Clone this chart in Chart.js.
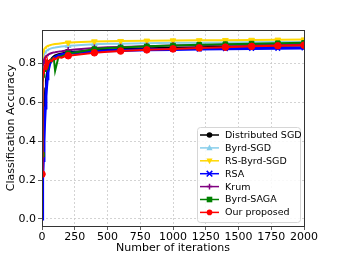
<!DOCTYPE html>
<html>
<head>
<meta charset="utf-8">
<script src="https://cdn.jsdelivr.net/npm/chart.js@4"></script>
<style>
  body { margin: 0; background: #fff; }
  #wrap { width: 338px; height: 253px; }
</style>
</head>
<body>
<div id="wrap"><canvas id="accChart" width="338" height="253"></canvas></div>
<script>
// iterations (x values)
const iterations = [0, 3, 6, 10, 15, 20, 25, 30, 35, 40, 45, 50, 60, 75, 90, 100, 125, 150, 175, 200, 250, 300, 400, 500, 600, 800, 1000, 1200, 1400, 1600, 1800, 2000];

const distSGD  = [0.0, 0.14, 0.27, 0.40, 0.52, 0.61, 0.67, 0.71, 0.74, 0.76, 0.78, 0.79, 0.81, 0.825, 0.835, 0.84, 0.846, 0.85, 0.853, 0.855, 0.858, 0.861, 0.866, 0.869, 0.872, 0.876, 0.879, 0.882, 0.885, 0.887, 0.889, 0.890];
const byrdSGD  = [0.76, 0.79, 0.81, 0.835, 0.845, 0.85, 0.855, 0.86, 0.863, 0.866, 0.868, 0.87, 0.873, 0.877, 0.879, 0.88, 0.883, 0.885, 0.887, 0.889, 0.891, 0.893, 0.897, 0.899, 0.900, 0.902, 0.904, 0.905, 0.906, 0.907, 0.908, 0.909];
const rsByrd   = [0.80, 0.82, 0.84, 0.86, 0.87, 0.875, 0.879, 0.882, 0.885, 0.887, 0.889, 0.89, 0.892, 0.895, 0.897, 0.898, 0.900, 0.902, 0.904, 0.905, 0.907, 0.908, 0.911, 0.912, 0.913, 0.915, 0.916, 0.917, 0.918, 0.919, 0.920, 0.921];
const rsa      = [0.0, 0.10, 0.20, 0.30, 0.40, 0.50, 0.57, 0.63, 0.68, 0.72, 0.75, 0.77, 0.80, 0.815, 0.825, 0.83, 0.838, 0.843, 0.847, 0.850, 0.853, 0.856, 0.860, 0.863, 0.865, 0.868, 0.870, 0.872, 0.874, 0.875, 0.876, 0.878];
const krum     = [0.72, 0.76, 0.78, 0.80, 0.815, 0.825, 0.83, 0.835, 0.838, 0.84, 0.843, 0.845, 0.848, 0.852, 0.855, 0.856, 0.859, 0.861, 0.864, 0.866, 0.870, 0.873, 0.878, 0.881, 0.883, 0.887, 0.890, 0.892, 0.894, 0.896, 0.897, 0.898];
const byrdSAGA = [0.33, 0.62, 0.70, 0.73, 0.75, 0.77, 0.76, 0.79, 0.78, 0.80, 0.79, 0.81, 0.805, 0.82, 0.825, 0.76, 0.83, 0.835, 0.842, 0.85, 0.855, 0.86, 0.872, 0.877, 0.88, 0.886, 0.89, 0.894, 0.897, 0.900, 0.902, 0.904];
const ours     = [0.23, 0.62, 0.72, 0.75, 0.76, 0.78, 0.77, 0.80, 0.785, 0.81, 0.79, 0.80, 0.815, 0.81, 0.825, 0.82, 0.83, 0.828, 0.835, 0.838, 0.842, 0.846, 0.853, 0.858, 0.862, 0.868, 0.873, 0.878, 0.882, 0.886, 0.889, 0.892];

const xTicks = [0, 250, 500, 750, 1000, 1250, 1500, 1750, 2000];
const yTicks = [0.0, 0.2, 0.4, 0.6, 0.8];

const series = [
    { label: 'Distributed SGD', values: distSGD,  color: '#000000', style: 'circle',   rot: 0,   first: false },
    { label: 'Byrd-SGD',        values: byrdSGD,  color: '#87CEEB', style: 'triangle', rot: 0,   first: false },
    { label: 'RS-Byrd-SGD',     values: rsByrd,   color: '#FFD700', style: 'triangle', rot: 180, first: false },
    { label: 'RSA',             values: rsa,      color: '#0000FF', style: 'crossRot', rot: 0,   first: false },
    { label: 'Krum',            values: krum,     color: '#800080', style: 'cross',    rot: 0,   first: false },
    { label: 'Byrd-SAGA',       values: byrdSAGA, color: '#008000', style: 'rect',     rot: 0,   first: true },
    { label: 'Our proposed',    values: ours,     color: '#FF0000', style: 'circle',   rot: 0,   first: true }
];

const FONT = 'DejaVu Sans';

function drawMarker(ctx, style, rot, r, x, y, color) {
    ctx.save();
    ctx.translate(x, y);
    ctx.rotate(rot * Math.PI / 180);
    ctx.fillStyle = color;
    ctx.strokeStyle = color;
    ctx.lineWidth = 1.5;
    ctx.beginPath();
    if (style === 'circle') {
        ctx.arc(0, 0, r, 0, Math.PI * 2);
        ctx.fill();
    } else if (style === 'triangle') {
        ctx.moveTo(0, -r * 1.2);
        ctx.lineTo(r * 1.1, r * 0.8);
        ctx.lineTo(-r * 1.1, r * 0.8);
        ctx.closePath();
        ctx.fill();
    } else if (style === 'rect') {
        ctx.rect(-r, -r, 2 * r, 2 * r);
        ctx.fill();
    } else if (style === 'cross') {
        ctx.moveTo(-r, 0); ctx.lineTo(r, 0);
        ctx.moveTo(0, -r); ctx.lineTo(0, r);
        ctx.stroke();
    } else if (style === 'crossRot') {
        ctx.moveTo(-r, -r); ctx.lineTo(r, r);
        ctx.moveTo(-r, r); ctx.lineTo(r, -r);
        ctx.stroke();
    }
    ctx.restore();
}

// legend inside the plot, lower right, plus the top/right spines
const framePlugin = {
    id: 'frame',
    afterDraw(chart) {
        const ctx = chart.ctx;
        const a = chart.chartArea;
        ctx.save();
        ctx.strokeStyle = '#333333';
        ctx.lineWidth = 1;
        ctx.strokeRect(Math.round(a.left) + 0.5, Math.round(a.top) + 0.5, Math.round(a.right - a.left), Math.round(a.bottom - a.top));

        const bw = 103, bh = 95;
        const bx = a.right - 4 - bw, by = a.bottom - 4 - bh;
        ctx.fillStyle = 'rgba(255,255,255,0.85)';
        ctx.strokeStyle = '#d6d6d6';
        ctx.beginPath();
        ctx.roundRect(bx + 0.5, by + 0.5, bw, bh, 3);
        ctx.fill();
        ctx.stroke();

        ctx.font = '9.5px "' + FONT + '"';
        ctx.textBaseline = 'middle';
        series.forEach((s, i) => {
            const y = by + 8 + i * 12.9;
            ctx.strokeStyle = s.color;
            ctx.lineWidth = 1.5;
            ctx.beginPath();
            ctx.moveTo(bx + 3, y);
            ctx.lineTo(bx + 22, y);
            ctx.stroke();
            drawMarker(ctx, s.style, s.rot, 2.8, bx + 12.5, y, s.color);
            ctx.fillStyle = '#000';
            ctx.fillText(s.label, bx + 28, y + 0.5);
        });
        ctx.restore();
    }
};

const ctx = document.getElementById('accChart').getContext('2d');
new Chart(ctx, {
    type: 'line',
    data: {
        datasets: series.map((s, i) => ({
            label: s.label,
            data: iterations.map((x, j) => ({ x: x, y: s.values[j] })),
            borderColor: s.color,
            backgroundColor: s.color,
            borderWidth: s.label === 'RSA' ? 3 : 2,
            pointStyle: s.style,
            rotation: s.rot,
            pointRadius: c => {
                const it = iterations[c.dataIndex];
                return (it % 200 === 0 && (it > 0 || s.first)) ? 3.3 : 0;
            },
            pointBorderWidth: s.style.startsWith('cross') ? 1.5 : 1,
            tension: 0,
            fill: false,
            order: series.length - i
        }))
    },
    options: {
        responsive: false,
        animation: false,
        events: [],
        layout: { padding: { top: 30, right: 34, left: 0, bottom: 0 } },
        plugins: {
            legend: { display: false },
            tooltip: { enabled: false }
        },
        scales: {
            x: {
                type: 'linear',
                min: 0,
                max: 2000,
                afterBuildTicks: sc => { sc.ticks = xTicks.map(v => ({ value: v })); },
                afterFit: sc => { sc.height = 27; },
                grid: { color: '#c8c8c8', tickColor: '#333', tickLength: 4, lineWidth: 0.8 },
                border: { display: false, dash: [2, 2] },
                ticks: { color: '#000', font: { family: FONT, size: 11 }, padding: 1, maxRotation: 0, callback: v => String(v) },
                title: { display: true, text: 'Number of iterations', color: '#000', font: { family: FONT, size: 11, lineHeight: 1 }, padding: { top: 0, bottom: -1 } }
            },
            y: {
                min: -0.036,
                max: 0.97,
                afterBuildTicks: sc => { sc.ticks = yTicks.map(v => ({ value: v })); },
                afterFit: sc => { sc.width = 42; },
                grid: { color: '#c8c8c8', tickColor: '#333', tickLength: 4, lineWidth: 0.8 },
                border: { display: false, dash: [2, 2] },
                ticks: { color: '#000', font: { family: FONT, size: 11 }, padding: 2, callback: v => v.toFixed(1) },
                title: { display: true, text: 'Classification Accuracy', color: '#000', font: { family: FONT, size: 11 }, padding: { top: 5, bottom: 0 } }
            }
        }
    },
    plugins: [framePlugin]
});
</script>
</body>
</html>
